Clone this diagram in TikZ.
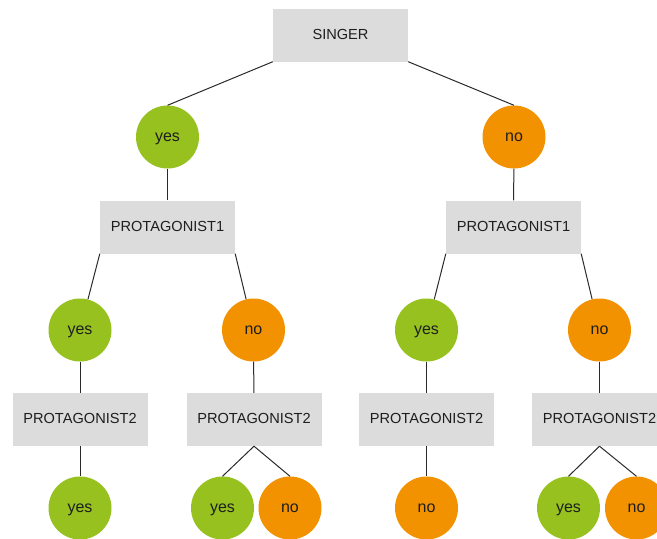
\documentclass[tikz,border=0pt]{standalone}
\usepackage{fontspec}
\setmainfont{Liberation Sans}
\definecolor{boxgray}{HTML}{DCDCDC}
\definecolor{yesgreen}{HTML}{96C11F}
\definecolor{noorange}{HTML}{F39200}
\definecolor{txt}{HTML}{1E1E1E}
\definecolor{ln}{HTML}{2A2A2A}
\begin{document}
\begin{tikzpicture}[x=1pt,y=-1pt,
  attr/.style={rectangle,fill=boxgray,minimum width=135pt,minimum height=53pt,inner sep=0pt,text=txt,font=\fontsize{14.6}{16}\selectfont,text height=0.8em,text depth=0pt},
  yesnode/.style={circle,fill=yesgreen,minimum size=63pt,inner sep=0pt,text=txt,font=\fontsize{16}{18}\selectfont,text height=0.8em,text depth=0pt},
  nonode/.style={circle,fill=noorange,minimum size=63pt,inner sep=0pt,text=txt,font=\fontsize{16}{18}\selectfont,text height=0.8em,text depth=0pt},
  conn/.style={draw=ln,line width=1pt}]
\useasboundingbox (0,0) rectangle (657,539);
\begin{scope}
\clip (0,0) rectangle (657,539);
% level 0
\node[attr] (singer) at (340.5,35) {SINGER};
% level 1
\node[yesnode] (y1) at (167.5,137) {yes};
\node[nonode] (n1) at (514,137) {no};
% level 2
\node[attr] (p1l) at (167.5,227) {PROTAGONIST1};
\node[attr] (p1r) at (513.5,227) {PROTAGONIST1};
% level 3
\node[yesnode] (y3a) at (80,330) {yes};
\node[nonode] (n3b) at (253.5,330) {no};
\node[yesnode] (y3c) at (426.5,330) {yes};
\node[nonode] (n3d) at (599.5,330) {no};
% level 4
\node[attr] (p2a) at (80,419.5) {PROTAGONIST2};
\node[attr] (p2b) at (254,419.5) {PROTAGONIST2};
\node[attr] (p2c) at (426.5,419.5) {PROTAGONIST2};
\node[attr] (p2d) at (599.5,419.5) {PROTAGONIST2};
% level 5
\node[yesnode] (b1) at (80,508) {yes};
\node[yesnode] (b2) at (222.5,508) {yes};
\node[nonode] (b3) at (290,508) {no};
\node[nonode] (b4) at (426.5,508) {no};
\node[yesnode] (b5) at (568.5,508) {yes};
\node[nonode] (b6) at (636.5,508) {no};
% connectors
\draw[conn] (singer.south west) -- (y1.north);
\draw[conn] (singer.south east) -- (n1.north);
\draw[conn] (y1) -- (p1l);
\draw[conn] (n1) -- (p1r);
\draw[conn] (p1l.south west) -- (y3a);
\draw[conn] (p1l.south east) -- (n3b);
\draw[conn] (p1r.south west) -- (y3c);
\draw[conn] (p1r.south east) -- (n3d);
\draw[conn] (y3a) -- (p2a);
\draw[conn] (n3b) -- (p2b);
\draw[conn] (y3c) -- (p2c);
\draw[conn] (n3d) -- (p2d);
\draw[conn] (p2a) -- (b1);
\draw[conn] (p2b.south) -- (b2.north);
\draw[conn] (p2b.south) -- (b3.north);
\draw[conn] (p2c) -- (b4);
\draw[conn] (p2d.south) -- (b5.north);
\draw[conn] (p2d.south) -- (b6.north);
\end{scope}
\end{tikzpicture}
\end{document}
